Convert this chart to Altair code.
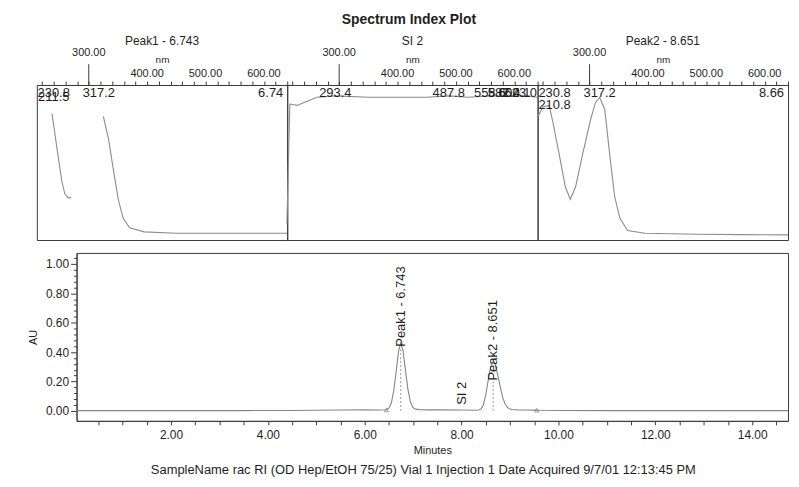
import altair as alt
import pandas as pd

FONT = "Liberation Sans"
INK = "#1e1e1e"
FRAME = "#3a3a3a"
TRACE = "#8c8c8c"

# ---------------- chromatogram data ----------------
chrom_time = [0.05, 0.5, 1.0, 1.5, 2.0, 2.5, 3.0, 3.5, 4.0, 4.5,
              5.0, 5.5, 6.0, 6.3, 6.45, 6.50, 6.55, 6.60, 6.65, 6.70,
              6.743, 6.79, 6.84, 6.89, 6.94, 6.99, 7.05, 7.15, 7.3, 7.6,
              8.0, 8.3, 8.35, 8.40, 8.45, 8.50, 8.55, 8.60, 8.651, 8.70,
              8.75, 8.80, 8.85, 8.90, 8.95, 9.00, 9.05, 9.15, 9.3, 9.5,
              9.6, 10.0, 11.0, 12.0, 13.0, 14.0, 14.74]
chrom_au = [0.002, 0.002, 0.002, 0.002, 0.002, 0.002, 0.002, 0.002, 0.003, 0.003,
            0.004, 0.006, 0.007, 0.006, 0.008, 0.018, 0.055, 0.14, 0.27, 0.41,
            0.46, 0.41, 0.28, 0.15, 0.065, 0.025, 0.012, 0.008, 0.007, 0.007,
            0.006, 0.004, 0.006, 0.012, 0.04, 0.11, 0.21, 0.30, 0.34, 0.31,
            0.24, 0.16, 0.09, 0.045, 0.022, 0.013, 0.009, 0.007, 0.006, 0.005,
            0.004, 0.003, 0.002, 0.002, 0.002, 0.002, 0.002]

peak_label_text = ["Peak1 - 6.743", "SI 2", "Peak2 - 8.651"]
peak_label_time = [6.743, 8.0, 8.651]
peak_label_au = [0.43, 0.035, 0.20]
peak_time = [6.743, 8.651]
peak_line_top = [0.43, 0.20]
marker_time = [6.45, 9.55]
marker_au = [0.007, 0.005]

minute_ticks = [0.5 * i for i in range(1, 30)]
au_ticks = [round(0.04 * i, 2) for i in range(27)]

sample_text = ("SampleName rac RI (OD Hep/EtOH 75/25) Vial 1 Injection 1 "
               "Date Acquired 9/7/01 12:13:45 PM")

# ---------------- spectrum data ----------------
nm_ticks = list(range(220, 641, 20))
nm_high_label = [300]
nm_low_labels = [400, 500, 600]

spec_titles = ["Peak1 - 6.743", "SI 2", "Peak2 - 8.651"]
spec_times = ["6.74", "", "8.66"]

p1_nm = [237, 246, 254, 259, 265, 270,
         325, 334, 342, 351, 359, 370, 395, 450, 500, 560, 640]
p1_val = [0.88, 0.61, 0.38, 0.29, 0.26, 0.26,
          0.86, 0.69, 0.47, 0.24, 0.11, 0.04, 0.01, 0.0, 0.0, 0.0, 0.0]
p1_seg = [0] * 6 + [1] * 11
p1_labels = ["230.8", "211.5", "317.2"]
p1_label_nm = [230.8, 211.5, 317.2]
p1_label_tier = [0, 1, 0]

p2_nm = [210.5, 215.5, 228, 245, 262, 293.4, 350, 400, 450, 487.8,
         520, 558.6, 582.4, 600.1, 623.0, 640]
p2_val = [0.07, 0.95, 0.94, 0.97, 1.0, 1.01, 1.0, 1.0, 1.0, 1.01,
          1.0, 1.01, 1.01, 1.01, 1.01, 1.0]
p2_seg = [0] * 16
p2_labels = ["293.4", "487.8", "558.6", "582.4", "600.1", "623.0"]
p2_label_nm = [293.4, 487.8, 558.6, 582.4, 600.1, 623.0]
p2_label_tier = [0, 0, 0, 0, 0, 0]

p3_nm = [212, 220, 230.8, 236, 248, 258.6, 267, 276, 288, 302,
         310, 317.2, 326, 334.5, 343, 352, 365, 395, 486, 560, 640]
p3_val = [0.86, 0.93, 0.94, 0.84, 0.58, 0.34, 0.25, 0.34, 0.58, 0.84,
          0.96, 1.0, 0.91, 0.58, 0.27, 0.11, 0.02, 0.0, -0.007, -0.01, -0.012]
p3_seg = [0] * 21
p3_labels = ["230.8", "210.8", "317.2"]
p3_label_nm = [230.8, 210.8, 317.2]
p3_label_tier = [0, 2, 0]

# ---------------- layout constants ----------------
NM_LO, NM_HI = 211, 640
PANEL_W, PANEL_H = 252, 156
CHROM_W, CHROM_H = 716, 169
CHROM_INDENT = 40
TIER_Y = {0: 8, 1: 12, 2: 20}
HALF_LABEL_NM = 29


def nm_x():
    return alt.X(
        "nm:Q",
        scale=alt.Scale(domain=[NM_LO, NM_HI], nice=False, zero=False),
        axis=alt.Axis(orient="top", values=nm_ticks, labels=False, tickSize=4,
                      grid=False, title="nm", titleFontSize=10,
                      titleFontWeight="normal", titlePadding=16),
    )


def spectrum_panel(nm, val, seg, title, time_label, labels, label_nm, tiers):
    curve_df = pd.DataFrame({"nm": nm, "val": val, "seg": seg})
    curve = alt.Chart(curve_df).mark_line(color=TRACE, strokeWidth=1.1).encode(
        x=nm_x(),
        y=alt.Y("val:Q", scale=alt.Scale(domain=[-0.05, 1.09], nice=False, zero=False),
                axis=None),
        detail="seg:N",
    )
    hi_df = pd.DataFrame({"nm": nm_high_label,
                          "t": [f"{v:.2f}" for v in nm_high_label]})
    lo_df = pd.DataFrame({"nm": nm_low_labels,
                          "t": [f"{v:.2f}" for v in nm_low_labels]})
    long_tick = alt.Chart(hi_df).mark_rule(color=FRAME, strokeWidth=1).encode(
        x=nm_x(), y=alt.value(0), y2=alt.value(-21))
    hi_text = alt.Chart(hi_df).mark_text(fontSize=11, color=INK, baseline="middle").encode(
        x=nm_x(), y=alt.value(-32), text="t:N")
    lo_text = alt.Chart(lo_df).mark_text(fontSize=11, color=INK, baseline="middle").encode(
        x=nm_x(), y=alt.value(-11), text="t:N")
    ttl = alt.Chart(pd.DataFrame({"t": [title]})).mark_text(
        fontSize=12, color=INK, baseline="middle").encode(
        x=alt.value(PANEL_W / 2), y=alt.value(-44), text="t:N")

    anchors = [min(max(v, NM_LO + HALF_LABEL_NM), NM_HI - HALF_LABEL_NM) for v in label_nm]
    lab_df = pd.DataFrame({"nm": anchors, "t": labels, "tier": tiers})
    layers = [curve, long_tick, hi_text, lo_text, ttl]
    for tier, ypix in TIER_Y.items():
        sub = lab_df[lab_df["tier"] == tier]
        if len(sub):
            layers.append(alt.Chart(sub).mark_text(
                fontSize=13, color=INK, baseline="middle").encode(
                x=nm_x(), y=alt.value(ypix), text="t:N"))
    if time_label:
        layers.append(alt.Chart(pd.DataFrame({"t": [time_label]})).mark_text(
            fontSize=13, color=INK, baseline="middle", align="right").encode(
            x=alt.value(PANEL_W - 4), y=alt.value(TIER_Y[0]), text="t:N"))
    return alt.layer(*layers).properties(width=PANEL_W, height=PANEL_H)


p1 = spectrum_panel(p1_nm, p1_val, p1_seg, spec_titles[0], spec_times[0],
                    p1_labels, p1_label_nm, p1_label_tier)
p2 = spectrum_panel(p2_nm, p2_val, p2_seg, spec_titles[1], spec_times[1],
                    p2_labels, p2_label_nm, p2_label_tier)
p3 = spectrum_panel(p3_nm, p3_val, p3_seg, spec_titles[2], spec_times[2],
                    p3_labels, p3_label_nm, p3_label_tier)
top_row = alt.hconcat(p1, p2, p3, spacing=0, bounds="flush")

# ---------------- chromatogram chart ----------------
major_test = "abs(datum.value * 5 - round(datum.value * 5)) < 0.01"
cx = alt.X(
    "time:Q",
    scale=alt.Scale(domain=[0.05, 14.74], nice=False, zero=False),
    axis=alt.Axis(values=minute_ticks,
                  labelExpr="datum.value % 2 == 0 ? format(datum.value, '.2f') : ''",
                  tickSize=4, labelPadding=5, labelFontSize=12, grid=False,
                  title="Minutes", titleFontSize=11, titleFontWeight="normal",
                  titlePadding=4),
)
cy = alt.Y(
    "au:Q",
    scale=alt.Scale(domain=[-0.068, 1.075], nice=False, zero=False),
    axis=alt.Axis(values=au_ticks,
                  labelExpr=major_test + " ? format(datum.value, '.2f') : ''",
                  tickSize={"condition": {"test": major_test, "value": 6}, "value": 3},
                  labelPadding=2, labelFontSize=12, grid=False,
                  title="AU", titleFontSize=11, titleFontWeight="normal",
                  titlePadding=7),
)

chrom_df = pd.DataFrame({"time": chrom_time, "au": chrom_au})
trace = alt.Chart(chrom_df).mark_line(color="#858585", strokeWidth=1.1).encode(x=cx, y=cy)
rules_df = pd.DataFrame({"time": peak_time, "au": [0.0] * len(peak_time), "au2": peak_line_top})
rules = alt.Chart(rules_df).mark_rule(color="#9a9a9a", strokeDash=[2, 2], strokeWidth=1).encode(
    x=cx, y=cy, y2="au2:Q")
lab_df = pd.DataFrame({"time": peak_label_time, "au": peak_label_au, "label": peak_label_text})
labels = alt.Chart(lab_df).mark_text(angle=270, align="left", baseline="middle",
                                     fontSize=13, color=INK, dx=1).encode(
    x=cx, y=cy, text="label:N")
mk_df = pd.DataFrame({"time": marker_time, "au": marker_au})
markers = alt.Chart(mk_df).mark_point(shape="triangle-up", size=18, filled=False,
                                      color="#777777", strokeWidth=1).encode(x=cx, y=cy)

chrom = alt.layer(trace, rules, labels, markers).properties(
    width=CHROM_W, height=CHROM_H,
    title=alt.TitleParams(sample_text, orient="bottom", fontSize=13,
                          fontWeight="normal", color=INK, font=FONT, offset=8,
                          dx=-9, anchor="middle"),
)

spacer = alt.Chart(pd.DataFrame({"s": [""]})).mark_text().encode(
    text="s:N"
).properties(width=CHROM_INDENT, height=CHROM_H,
             view=alt.ViewBackground(stroke="transparent"))

bottom_row = alt.hconcat(spacer, chrom, spacing=0, bounds="flush")

chart = alt.vconcat(
    top_row, bottom_row, spacing=11,
    title=alt.TitleParams("Spectrum Index Plot", fontSize=14, fontWeight="bold",
                          color=INK, font=FONT, anchor="middle", offset=8),
    padding={"left": 19, "top": 3, "right": 0, "bottom": 0},
).configure_view(
    stroke=FRAME, strokeWidth=1
).configure_axis(
    domainColor=FRAME, tickColor=FRAME, labelColor=INK, titleColor=INK,
    labelFont=FONT, titleFont=FONT
).configure_text(
    font=FONT
)

chart.save("out.html", embed_options={"renderer": "svg", "actions": False})
